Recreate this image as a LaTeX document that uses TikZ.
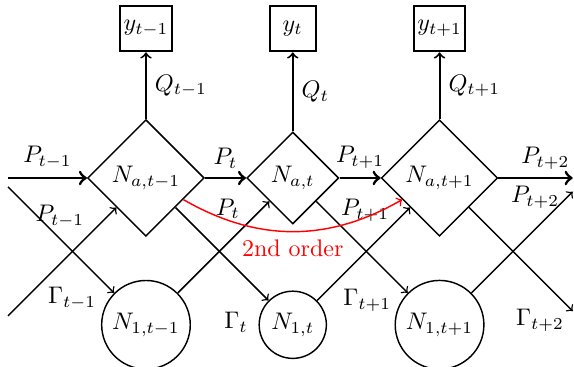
\documentclass[tikz,border=0pt]{standalone}
\usepackage{amsmath,amssymb}
\usetikzlibrary{shapes.geometric}

\begin{document}
\begin{tikzpicture}[>=to,
  agg/.style={draw, semithick, diamond, aspect=1, inner sep=2.6pt},
  pool/.style={draw, semithick, circle, inner sep=2.8pt},
  obs/.style={draw, thick, rectangle, inner xsep=1.5pt, minimum size=0.67cm}]
\useasboundingbox (-2.138,-2.768) rectangle (6.269,2.607);
% aggregate nodes
\node[agg] (Nam) at (0,0) {$N_{a,t-1}$};
\node[agg] (Nat) at (2.15,0) {$N_{a,t}$};
\node[agg] (Nap) at (4.3,0) {$N_{a,t+1}$};
% first-order nodes
\node[pool] (N1m) at (0,-2.15) {$N_{1,t-1}$};
\node[pool] (N1t) at (2.15,-2.15) {$N_{1,t}$};
\node[pool] (N1p) at (4.3,-2.15) {$N_{1,t+1}$};
% observations
\node[obs] (ym) at (0,2.19) {$y_{t-1}$};
\node[obs] (yt) at (2.15,2.19) {$y_{t}$};
\node[obs] (yp) at (4.3,2.19) {$y_{t+1}$};
% free ends at the borders
\coordinate (inP) at (-2.02,0);
\coordinate (inD) at (-2.02,-0.13);
\coordinate (inG) at (-2.02,-2.02);
\coordinate (outP) at (6.25,0);
\coordinate (outD) at (6.25,-1.95);
\coordinate (outG) at (6.25,-0.2);
% observation arrows
\draw[->, thick] (Nam) -- (ym) node[midway, right] {$Q_{t-1}$};
\draw[->, thick] (Nat) -- (yt) node[midway, right] {$Q_{t}$};
\draw[->, thick] (Nap) -- (yp) node[midway, right] {$Q_{t+1}$};
% main chain
\draw[->, very thick] (inP) -- (Nam) node[midway, above] {$P_{t-1}$};
\draw[->, very thick] (Nam) -- (Nat) node[midway, above] {$P_{t}$};
\draw[->, very thick] (Nat) -- (Nap) node[midway, above] {$P_{t+1}$};
\draw[->, very thick] (Nap) -- (outP);
\node (Pa) at (5.85,0.29) {$P_{t+2}$};
\node (Pb) at (5.70,-0.28) {$P_{t+2}$};
% down links
\draw[->, semithick] (inD) -- (N1m);
\draw[->, semithick] (Nam) -- (N1t);
\draw[->, semithick] (Nat) -- (N1p);
\draw[->, semithick] (Nap) -- (outD);
\node (Pdm) at (-1.26,-0.56) {$P_{t-1}$};
\node (Pdt) at (1.20,-0.45) {$P_{t}$};
\node (Pdp) at (3.21,-0.47) {$P_{t+1}$};
% up links
\draw[->, semithick] (inG) -- (Nam);
\draw[->, semithick] (N1m) -- (Nat);
\draw[->, semithick] (N1t) -- (Nap);
\draw[->, semithick] (N1p) -- (outG);
\node (Gm) at (-1.08,-1.76) {$\Gamma_{t-1}$};
\node (Gt) at (1.32,-2.11) {$\Gamma_{t}$};
\node (Gp) at (3.24,-1.79) {$\Gamma_{t+1}$};
\node (Gpp) at (5.77,-2.08) {$\Gamma_{t+2}$};
% second order
\draw[->, red, semithick] (Nam) to[bend right] node[midway, below] {2nd order} (Nap);
\end{tikzpicture}
\end{document}
